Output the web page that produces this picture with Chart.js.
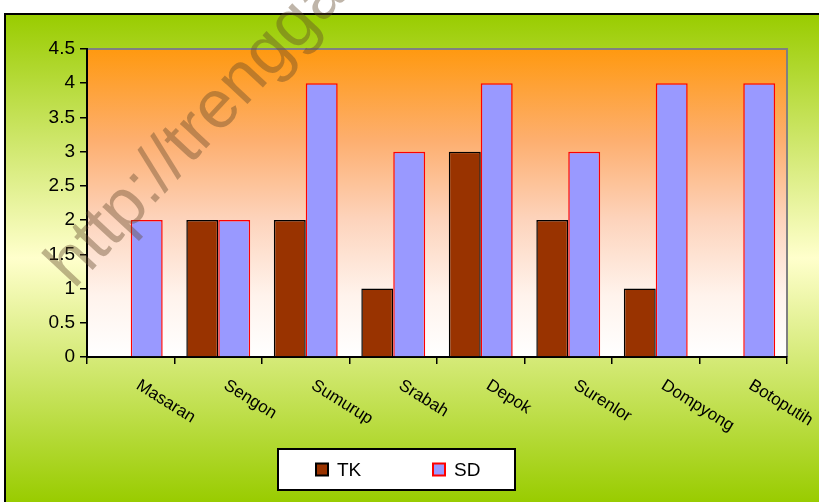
<!DOCTYPE html>
<html>
<head>
<meta charset="utf-8">
<script src="https://cdn.jsdelivr.net/npm/chart.js@4.4.1/dist/chart.umd.min.js"></script>
<style>
  html, body { margin: 0; padding: 0; background: #fff; }
  #wrap { width: 819px; height: 502px; }
</style>
</head>
<body>
<div id="wrap"><canvas id="sekolahChart" width="819" height="502"></canvas></div>
<script>
// data
const desa = ['Masaran', 'Sengon', 'Sumurup', 'Srabah', 'Depok', 'Surenlor', 'Dompyong', 'Botoputih'];
const jumlahTK = [null, 2, 2, 1, 3, 2, 1, null];
const jumlahSD = [2, 2, 4, 3, 4, 3, 4, 4];
const seriesNames = ['TK', 'SD'];
const yTicks = [0, 0.5, 1, 1.5, 2, 2.5, 3, 3.5, 4, 4.5];

const FONT = '"Liberation Sans", Arial, sans-serif';

// backgrounds, frame, watermark, slanted labels and boxed legend
const decor = {
  id: 'decor',
  beforeDraw(chart) {
    const ctx = chart.ctx;
    const W = chart.width, H = chart.height;
    const a = chart.chartArea;
    ctx.save();
    ctx.fillStyle = '#ffffff';
    ctx.fillRect(0, 0, W, H);

    // outer green -> pale yellow -> green
    const g = ctx.createLinearGradient(0, 14, 0, H);
    g.addColorStop(0, '#99CC00');
    g.addColorStop(0.5, '#FFFFCC');
    g.addColorStop(1, '#99CC00');
    ctx.fillStyle = g;
    ctx.fillRect(5, 14, W - 5, H - 14);
    ctx.strokeStyle = '#000';
    ctx.lineWidth = 2;
    ctx.beginPath();
    ctx.moveTo(5, H);
    ctx.lineTo(5, 14);
    ctx.lineTo(W, 14);
    ctx.stroke();

    // plot area orange -> white
    const p = ctx.createLinearGradient(0, a.top, 0, a.bottom);
    p.addColorStop(0, '#FF9910');
    p.addColorStop(0.3, '#FDAF70');
    p.addColorStop(0.55, '#FDD3BB');
    p.addColorStop(0.8, '#FFF3EC');
    p.addColorStop(1, '#FFFFFF');
    ctx.fillStyle = p;
    ctx.fillRect(a.left, a.top, a.right - a.left, a.bottom - a.top);

    ctx.strokeStyle = '#808080';
    ctx.lineWidth = 2;
    ctx.beginPath();
    ctx.moveTo(a.left, a.top);
    ctx.lineTo(a.right, a.top);
    ctx.lineTo(a.right, a.bottom);
    ctx.stroke();
    ctx.restore();
  },
  afterDraw(chart) {
    const ctx = chart.ctx;
    const xs = chart.scales.x;
    const a = chart.chartArea;
    ctx.save();

    // slanted category labels
    ctx.fillStyle = '#000';
    ctx.font = '17px ' + FONT;
    ctx.textAlign = 'left';
    ctx.textBaseline = 'middle';
    desa.forEach((name, i) => {
      const x = xs.getPixelForValue(i);
      ctx.save();
      ctx.translate(x + 7, a.bottom + 27);
      ctx.rotate(32 * Math.PI / 180);
      ctx.fillText(name, 0, 0);
      ctx.restore();
    });

    // legend box
    const bx = 278, by = 449, bw = 237, bh = 41;
    ctx.fillStyle = '#fff';
    ctx.fillRect(bx, by, bw, bh);
    ctx.strokeStyle = '#000';
    ctx.lineWidth = 2;
    ctx.strokeRect(bx, by, bw, bh);
    ctx.font = '19px ' + FONT;
    ctx.textBaseline = 'middle';
    chart.data.datasets.forEach((ds, i) => {
      const lx = bx + 38 + i * 117;
      const cy = by + bh / 2;
      ctx.fillStyle = ds.backgroundColor;
      ctx.fillRect(lx, cy - 6, 12, 12);
      ctx.strokeStyle = ds.borderColor;
      ctx.lineWidth = 2;
      ctx.strokeRect(lx, cy - 6, 12, 12);
      ctx.fillStyle = '#000';
      ctx.fillText(ds.label, lx + 21, cy + 1);
    });

    // watermark
    ctx.translate(74, 290);
    ctx.rotate(-47 * Math.PI / 180);
    ctx.font = '68px ' + FONT;
    ctx.fillStyle = 'rgba(95, 70, 40, 0.40)';
    ctx.textBaseline = 'alphabetic';
    ctx.fillText('http://trenggalek', 0, 0);
    ctx.restore();
  }
};

new Chart(document.getElementById('sekolahChart'), {
  type: 'bar',
  data: {
    labels: desa,
    datasets: [
      {
        label: seriesNames[0],
        data: jumlahTK,
        backgroundColor: '#993300',
        borderColor: '#000000',
        borderWidth: 1.5,
        categoryPercentage: 0.73,
        barPercentage: 1.0
      },
      {
        label: seriesNames[1],
        data: jumlahSD,
        backgroundColor: '#9999FF',
        borderColor: '#FF0000',
        borderWidth: 1.5,
        categoryPercentage: 0.73,
        barPercentage: 1.0
      }
    ]
  },
  options: {
    responsive: false,
    animation: false,
    layout: { padding: { top: 49, left: 5, right: 32, bottom: 0 } },
    plugins: {
      legend: { display: false },
      tooltip: { enabled: false }
    },
    scales: {
      x: {
        offset: true,
        grid: { offset: true, drawOnChartArea: false, drawTicks: true, tickLength: 7, color: '#000', lineWidth: 1.5 },
        border: { color: '#000', width: 2 },
        ticks: { display: false },
        afterFit: s => { s.height = 145; }
      },
      y: {
        min: 0,
        max: 4.5,
        afterBuildTicks: s => { s.ticks = yTicks.map(v => ({ value: v })); },
        grid: { drawOnChartArea: false, drawTicks: true, tickLength: 7, color: '#000', lineWidth: 1.5 },
        border: { color: '#000', width: 2 },
        ticks: {
          color: '#000',
          font: { size: 19, family: FONT },
          padding: 5,
          callback: v => String(v)
        },
        afterFit: s => { s.width = 82; }
      }
    }
  },
  plugins: [decor]
});
</script>
</body>
</html>
